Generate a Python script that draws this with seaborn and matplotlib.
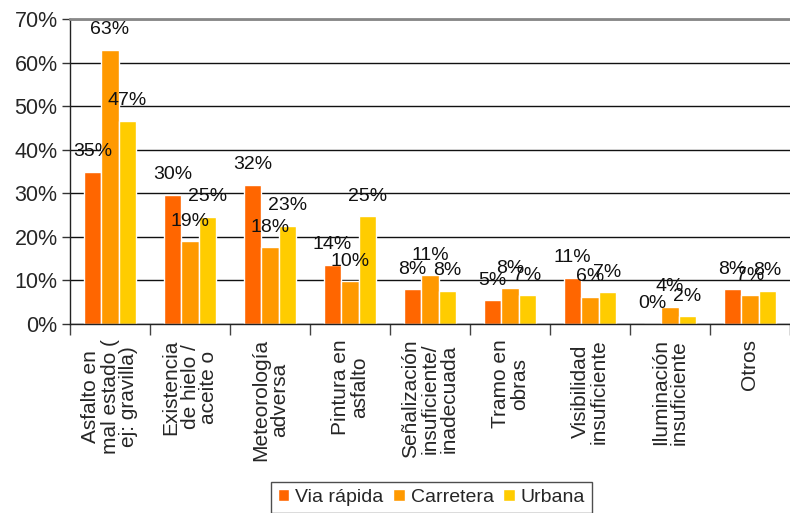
import matplotlib
matplotlib.use('Agg')
import pandas as pd
import seaborn as sns
from matplotlib import pyplot as plt
from matplotlib.ticker import FixedLocator, PercentFormatter

categories = ['Asfalto en\nmal estado (\nej: gravilla)', 'Existencia\nde hielo /\naceite o',
              'Meteorología\nadversa', 'Pintura en\nasfalto',
              'Señalización\ninsuficiente/\ninadecuada', 'Tramo en\nobras',
              'Visibilidad\ninsuficiente', 'Iluminación\ninsuficiente', 'Otros']
series = ['Via rápida', 'Carretera', 'Urbana']
via_rapida = [35.0, 29.6, 32.0, 13.6, 8.0, 5.4, 10.6, 0.0, 8.0]
carretera = [62.9, 19.0, 17.6, 9.8, 11.2, 8.2, 6.2, 3.9, 6.6]
urbana = [46.7, 24.6, 22.6, 24.7, 7.6, 6.6, 7.3, 1.8, 7.6]
colors = ['#FF6600', '#FF9900', '#FFCC00']

df = pd.DataFrame({
    'categoria': categories * 3,
    'serie': [s for s in series for _ in categories],
    'valor': via_rapida + carretera + urbana,
})

sns.set_style('white')
plt.rcParams['font.family'] = ['Liberation Sans', 'DejaVu Sans']

fig, ax = plt.subplots(figsize=(7.9, 5.13), dpi=100)
fig.subplots_adjust(left=70 / 790, right=1.0, top=1 - 19 / 513, bottom=1 - 324 / 513)

sns.barplot(data=df, x='categoria', y='valor', hue='serie', palette=colors,
            width=0.66, saturation=1, ax=ax, legend=True)

for container in ax.containers:
    for bar in container:
        h = bar.get_height()
        ax.annotate('%d%%' % round(h), (bar.get_x() + bar.get_width() / 2, h),
                    xytext=(0, 14.5), textcoords='offset points',
                    ha='center', va='center', fontsize=14, color='#111111')

ax.set_xlim(-0.5, len(categories) - 0.5)
ax.set_ylim(0, 70)
ax.set_yticks(range(0, 71, 10))
ax.yaxis.set_major_formatter(PercentFormatter(decimals=0))
ax.tick_params(axis='y', labelsize=15.5, length=6, width=1, color='#333333',
               direction='out', left=True, pad=3)
ax.set_xlabel('')
ax.set_ylabel('')
ax.tick_params(axis='x', which='major', length=0, labelsize=15, pad=11)
for lbl in ax.get_xticklabels():
    lbl.set_rotation(90)
    lbl.set_multialignment('center')
    lbl.set_linespacing(1.0)
ax.xaxis.set_minor_locator(FixedLocator([i + 0.5 for i in range(-1, len(categories))]))
ax.tick_params(axis='x', which='minor', length=8, width=1, color='#444444',
               direction='out', bottom=True)

ax.set_axisbelow(True)
ax.yaxis.grid(True, color='#111111', linewidth=1)
ax.xaxis.grid(False)
for side in ['left', 'bottom']:
    ax.spines[side].set_color('#222222')
    ax.spines[side].set_linewidth(1)
ax.spines['top'].set_color('#888888')
ax.spines['top'].set_linewidth(2)
ax.spines['right'].set_visible(False)

ax.get_legend().remove()
leg = fig.legend(*ax.get_legend_handles_labels(), loc='lower center',
                 bbox_to_anchor=(0.546, -0.018), ncol=3, fontsize=14,
                 frameon=True, fancybox=False, edgecolor='#222222',
                 handlelength=0.6, handleheight=0.6, handletextpad=0.3,
                 columnspacing=0.5, borderpad=0.35)
leg.get_frame().set_linewidth(1)

fig.savefig('out.png', dpi=100)
